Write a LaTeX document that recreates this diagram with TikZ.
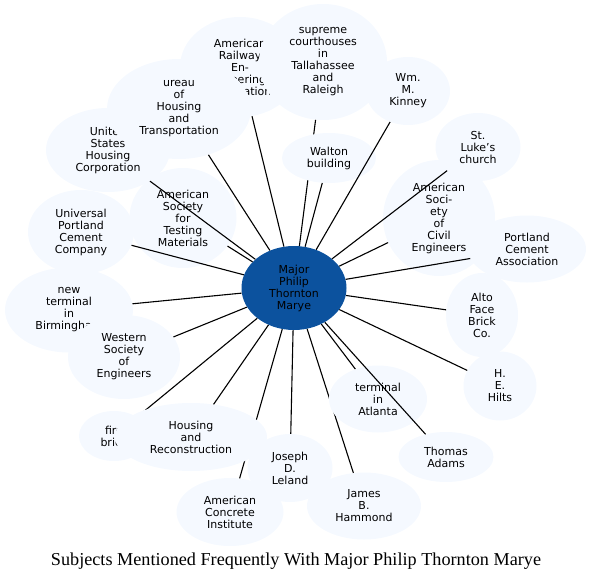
\documentclass[tikz,border=0pt]{standalone}
\usepackage{fontspec}
\setmainfont{Liberation Serif}
\newfontfamily\nodefont{DejaVu Sans}
\usetikzlibrary{shapes.geometric}
\definecolor{subjfill}{RGB}{245,249,255}
\definecolor{hubfill}{RGB}{12,82,158}
\tikzset{
  subj/.style 2 args={ellipse, fill=subjfill, inner sep=0pt, align=center, minimum width=#1pt, minimum height=#2pt},
  hub/.style={ellipse, fill=hubfill, inner sep=0pt, align=center, minimum width=105pt, minimum height=84pt},
  link/.style={line width=1.1pt},
  caption/.style={font=\fontsize{18.2}{20}\selectfont}
}

\begin{document}
\begin{tikzpicture}[x=1pt, y=-1pt, every node/.style={font=\nodefont\fontsize{11}{12}\selectfont}]
  \useasboundingbox (0,0) rectangle (593,583);
  \node[hub] (marye) at (294,288) {Major\\Philip\\Thornton\\Marye};
  \node[subj={120}{100}] (railway) at (240,67) {American\\Railway\\En-\\gineering\\Association};
  \node[subj={128}{116}] (courts) at (323,62) {supreme\\courthouses\\in\\Tallahassee\\and\\Raleigh};
  \draw[link] (courts) -- (marye);
  \node[subj={94}{50}] (walton) at (329,158) {Walton\\building};
  \node[subj={84}{68}] (kinney) at (408,91) {Wm.\\M.\\Kinney};
  \node[subj={124}{84}] (ushc) at (108,150) {United\\States\\Housing\\Corporation};
  \node[subj={144}{100}] (bureau) at (179,109) {ureau\\of\\Housing\\and\\Transportation};
  \node[subj={85}{68}] (stluke) at (478,147) {St.\\Luke’s\\church};
  \node[subj={112}{116}] (asce) at (439,218) {American\\Soci-\\ety\\of\\Civil\\Engineers};
  \node[subj={118}{67}] (pca) at (527,249) {Portland\\Cement\\Association};
  \node[subj={72}{84}] (alto) at (482,315) {Alto\\Face\\Brick\\Co.};
  \node[subj={73}{69}] (hilts) at (500,386) {H.\\E.\\Hilts};
  \node[subj={114}{67}] (hammond) at (364,506) {James\\B.\\Hammond};
  \draw[link] (hammond) -- (marye);
  \node[subj={98}{67}] (atlanta) at (378,399) {terminal\\in\\Atlanta};
  \node[subj={95}{50}] (adams) at (446,457) {Thomas\\Adams};
  \node[subj={85}{68}] (leland) at (290,468) {Joseph\\D.\\Leland};
  \node[subj={107}{68}] (aci) at (230,512) {American\\Concrete\\Institute};
  \draw[link] (aci) -- (marye);
  \node[subj={70}{50}] (firebrick) at (114,436) {fire\\brick};
  \draw[link] (firebrick) -- (marye);
  \node[subj={152}{68}] (housing) at (191,437) {Housing\\and\\Reconstruction};
  \node[subj={128}{85}] (birmingham) at (69,310) {new\\terminal\\in\\Birmingham};
  \node[subj={112}{84}] (western) at (124,357) {Western\\Society\\of\\Engineers};
  \node[subj={106}{84}] (upcc) at (81,232) {Universal\\Portland\\Cement\\Company};
  \node[subj={107}{100}] (astm) at (183,218) {American\\Society\\for\\Testing\\Materials};
  % spokes drawn over the subject nodes
  \foreach \subj in {railway, walton, kinney, ushc, bureau, stluke, asce, pca, alto, hilts, atlanta, adams, leland, housing, birmingham, western, upcc, astm}
    \draw[link] (\subj) -- (marye);
  \node[caption, anchor=base] (title) at (296,565) {Subjects Mentioned Frequently With Major Philip Thornton Marye};
\end{tikzpicture}
\end{document}
